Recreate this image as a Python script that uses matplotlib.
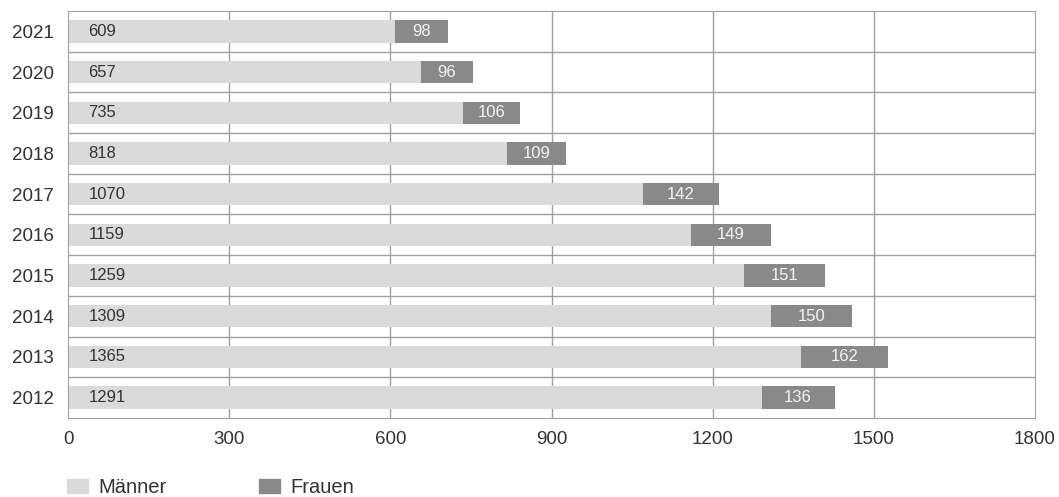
import numpy as np
import matplotlib.pyplot as plt
from matplotlib.patches import Patch

plt.rcParams['font.family'] = ['Liberation Sans', 'DejaVu Sans']

years = ['2012', '2013', '2014', '2015', '2016', '2017', '2018', '2019', '2020', '2021']
maenner = [1291, 1365, 1309, 1259, 1159, 1070, 818, 735, 657, 609]
frauen = [136, 162, 150, 151, 149, 142, 109, 106, 96, 98]

c_m = '#d9dad9'
c_f = '#898989'
c_grid = '#a0a0a0'
c_txt = '#333333'

fig = plt.figure(figsize=(10.59, 4.97), dpi=100)
ax = fig.add_axes([68/1059, 1-418/497, (1035-68)/1059, (418-11)/497])

y = np.arange(len(years))
ax.barh(y, maenner, height=0.55, color=c_m, zorder=2)
ax.barh(y, frauen, left=maenner, height=0.55, color=c_f, zorder=2)

for i in range(len(years)):
    ax.text(38, y[i], str(maenner[i]), va='center', ha='left', fontsize=12, color=c_txt, zorder=3)
    ax.text(maenner[i] + frauen[i]/2, y[i], str(frauen[i]), va='center', ha='center',
            fontsize=12, color='#f4f4f4', zorder=3)

ax.set_xlim(0, 1800)
ax.set_ylim(-0.5, len(years)-0.5)
ax.set_xticks(np.arange(0, 1801, 300))
ax.set_yticks(y)
ax.set_yticklabels(years)
ax.tick_params(length=0, labelsize=13.5, colors=c_txt)
ax.tick_params(axis='x', pad=9)
ax.tick_params(axis='y', pad=10)

for xv in range(300, 1800, 300):
    ax.axvline(xv, color=c_grid, lw=1, zorder=1)
for yv in np.arange(0.5, len(years)-0.5, 1):
    ax.axhline(yv, color=c_grid, lw=1, zorder=1)
for s in ax.spines.values():
    s.set_color(c_grid)

handles = [Patch(color=c_m, label='Männer'), Patch(color=c_f, label='Frauen')]
fig.legend(handles=handles, loc='lower left', bbox_to_anchor=(67/1059, 0.0), ncol=2,
           frameon=False, fontsize=14.5, handlelength=1.04, handleheight=0.75,
           columnspacing=4.6, handletextpad=0.5, borderpad=0, borderaxespad=0,
           labelcolor=c_txt)

fig.savefig('out.png', dpi=100)
